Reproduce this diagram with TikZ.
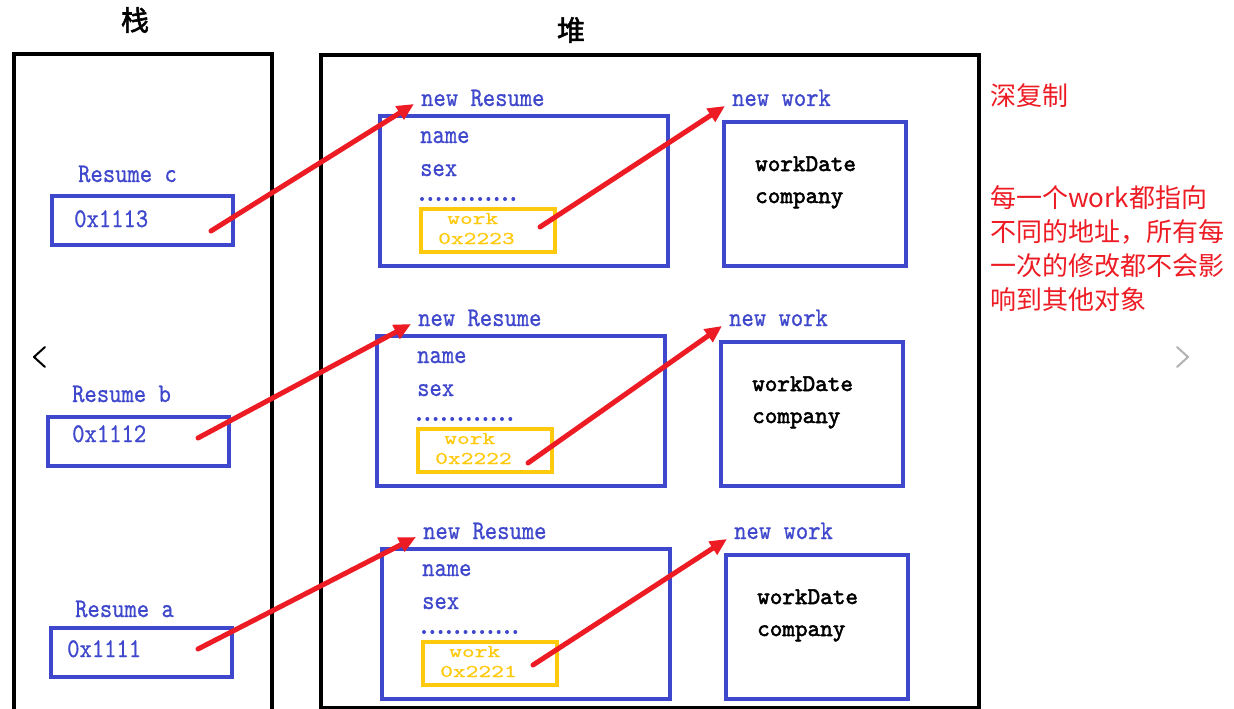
\documentclass[tikz,border=0pt]{standalone}
\usepackage{fontspec}
\usetikzlibrary{arrows.meta}
\newfontfamily\monof[FakeStretch=0.87,FakeBold=0.8]{lmmono10-regular.otf}
\newfontfamily\monok[FakeBold=2.2]{lmmono10-regular.otf}
\newfontfamily\monoy[FakeStretch=1.35,FakeBold=0.6]{lmmono10-regular.otf}
\newfontfamily\cjk{Noto Sans CJK SC}
\newfontfamily\cjkbold[FakeBold=2]{Noto Sans CJK SC}
\definecolor{boxblue}{RGB}{63,72,204}
\definecolor{goldy}{RGB}{255,201,14}
\definecolor{redarr}{RGB}{237,28,36}
\tikzset{
  bigframe/.style={draw=black, line width=4pt, anchor=north west, inner sep=0pt},
  bluebox/.style={draw=boxblue, line width=4pt, anchor=north west, inner sep=0pt},
  goldbox/.style={draw=goldy, line width=4pt, anchor=north west, inner sep=0pt},
  btext/.style={text=boxblue, font=\monof\fontsize{27}{30}\selectfont, anchor=base west, inner sep=0pt},
  ktext/.style={text=black, font=\monok\fontsize{24}{28}\selectfont, anchor=base west, inner sep=0pt},
  ytext/.style={text=goldy, font=\monoy\fontsize{18}{22}\selectfont, anchor=base west, inner sep=0pt},
  rtext/.style={text=redarr, font=\cjk\fontsize{26}{34}\selectfont, anchor=base west, inner sep=0pt},
  ptr/.style={draw=redarr, line width=5pt, line cap=round, -{Triangle[length=17pt,width=15pt]}},
  chev/.style={line width=2pt, line cap=round, line join=round}
}
\newcommand\heaprow[4]{%
\begin{scope}[shift={#2}, name prefix=#1-]
 \node[btext] (nr) at (421,106) {new Resume};
 \node[bluebox, minimum width=288pt, minimum height=150pt] (rbox) at (378,114) {};
 \node[btext] (name) at (420,143) {name};
 \node[btext] (sex) at (420,176) {sex};
 \draw[boxblue, line width=4pt, line cap=round, dash pattern=on 0pt off 8.3pt] (422,199) -- (518,199);
 \node[goldbox, minimum width=134pt, minimum height=43pt] (wbox) at (419,207) {};
 \node[ytext] (wl) at (447,224) {work};
 \node[ytext] (addr) at (438,244) {#3};
 \node[btext] (nw) at (732,106) {new work};
 \node[bluebox, minimum width=182pt, minimum height=144pt] (kbox) at (722,120) {};
 \node[ktext] (wd) at (755,171) {workDate};
 \node[ktext] (co) at (755,203) {company};
 \coordinate (tipR) at (414,104);
 \coordinate (tipW) at (725,106);
 \coordinate (srcW) at #4;
\end{scope}}
\begin{document}
\begin{tikzpicture}[x=1pt,y=-1pt]
\useasboundingbox (0,0) rectangle (1234,709);
% titles
\node[font=\cjkbold\fontsize{28}{30}\selectfont] (zhan) at (135,20) {栈};
\node[font=\cjkbold\fontsize{28}{30}\selectfont] (dui) at (571,30) {堆};
% frames
\node[bigframe, minimum width=258pt, minimum height=700pt] (stack) at (12,52) {};
\node[bigframe, minimum width=658pt, minimum height=653pt] (heap) at (319,53) {};
% stack entries
\node[btext] (lc) at (78,182) {Resume c};
\node[bluebox, minimum width=181pt, minimum height=49pt] (cbox) at (50,194) {};
\node[btext] (ac) at (74,227) {0x1113};
\coordinate (cS) at (211,231);
\node[btext] (lb) at (72,402) {Resume b};
\node[bluebox, minimum width=181pt, minimum height=49pt] (bbox) at (46,415) {};
\node[btext] (ab) at (72,442) {0x1112};
\coordinate (bS) at (198,438);
\node[btext] (la) at (75,617) {Resume a};
\node[bluebox, minimum width=181pt, minimum height=49pt] (abox) at (49,626) {};
\node[btext] (aa) at (67,657) {0x1111};
\coordinate (aS) at (198,649);
% heap rows
\heaprow{r1}{(0,0)}{0x2223}{(540,227)}
\heaprow{r2}{(-3,220)}{0x2222}{(531,243)}
\heaprow{r3}{(2,433)}{0x2221}{(531,232)}
% pointers
\draw[ptr] (cS) -- (r1-tipR);
\draw[ptr] (bS) -- (r2-tipR);
\draw[ptr] (aS) -- (r3-tipR);
\draw[ptr] (r1-srcW) -- (r1-tipW);
\draw[ptr] (r2-srcW) -- (r2-tipW);
\draw[ptr] (r3-srcW) -- (r3-tipW);
% notes
\node[rtext] (t0) at (990,105) {深复制};
\node[rtext] (t1) at (990,207) {每一个work都指向};
\node[rtext] (t2) at (990,241) {不同的地址，所有每};
\node[rtext] (t3) at (990,275) {一次的修改都不会影};
\node[rtext] (t4) at (990,309) {响到其他对象};
% carousel chevrons
\draw[chev, black] (45,347) -- (34,357) -- (45,367);
\draw[chev, black!30] (1177,347) -- (1188,357) -- (1177,367);
\end{tikzpicture}
\end{document}
